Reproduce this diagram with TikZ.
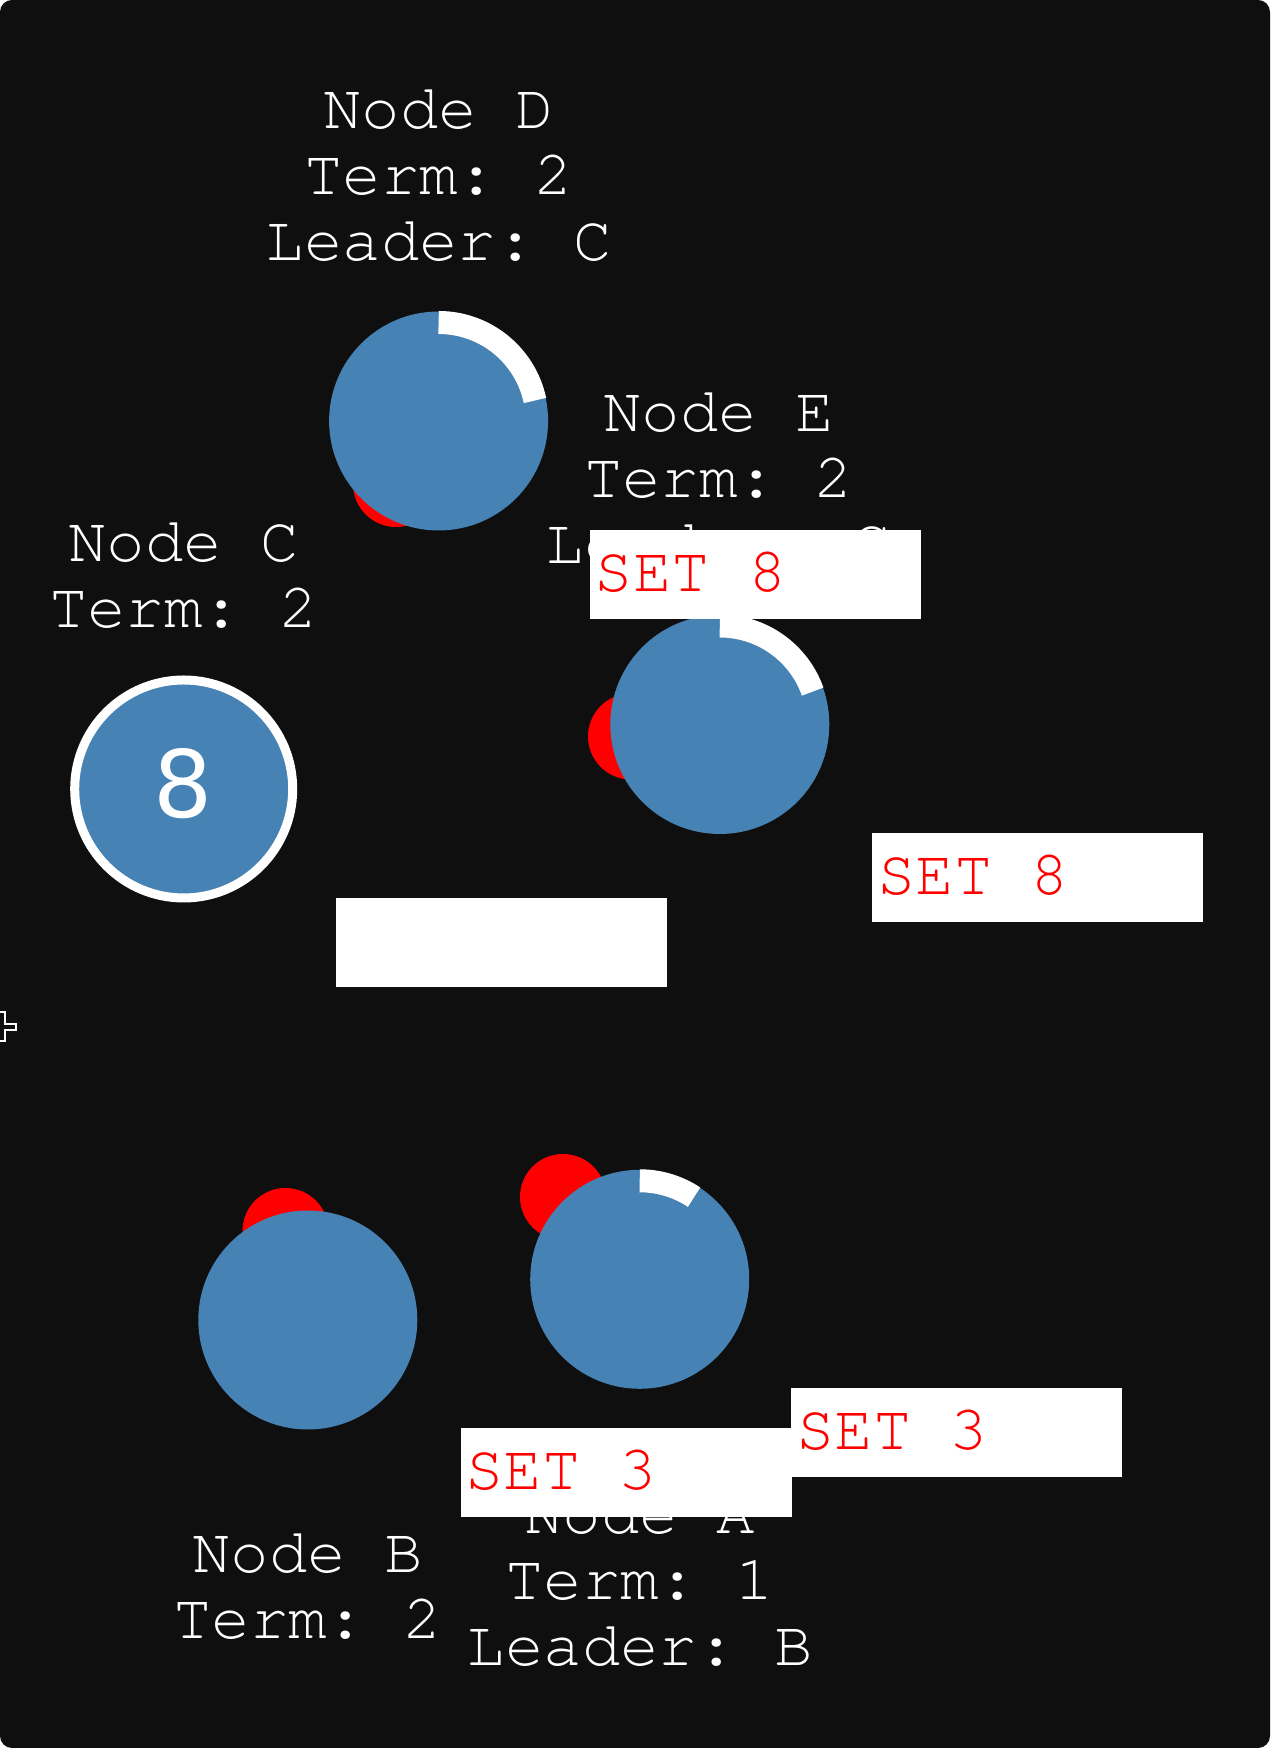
\documentclass[tikz,border=0pt]{standalone}
\usepackage{fontspec}
\newfontfamily\monof{texgyrecursor-regular.otf}
\newfontfamily\sansf{DejaVu Sans}
\definecolor{bgc}{HTML}{0F0F0F}
\definecolor{nodeblue}{HTML}{4682B4}
\definecolor{setred}{HTML}{FF0000}
\frenchspacing
\tikzset{
  lbl/.style={text=white, font=\monof\frenchspacing\fontsize{64}{66}\selectfont, align=center, inner sep=0pt, anchor=base},
  redc/.style={circle, fill=setred, minimum size=86pt, inner sep=0pt},
  bluec/.style={circle, fill=nodeblue, minimum size=219pt, inner sep=0pt},
  prog/.style={white, line width=23pt},
  setbox/.style={fill=white, minimum width=331pt, minimum height=89pt, inner sep=0pt},
  settxt/.style={text=setred, font=\monof\frenchspacing\fontsize{64}{66}\selectfont, inner sep=0pt, anchor=base west}
}
\begin{document}
\begin{tikzpicture}[x=1pt,y=1pt]
\useasboundingbox (0,0) rectangle (1270,1748);
\fill[white] (0,0) rectangle (1270,1748);
\fill[bgc, rounded corners=12pt] (0,0) rectangle (1270,1748);

% labels (anchor = baseline of the last line)
\node[lbl] (lD) at (438.6,1487.8) {Node D\\Term: 2\\Leader: C};
\node[lbl] (lE) at (718.5,1184.5) {Node E\\Term: 2\\Leader: C};
\node[lbl] (lC) at (183.5,1120.3) {Node C\\Term: 2};
\node[lbl] (lB) at (307.7,109) {Node B\\Term: 2};
\node[lbl] (lA) at (639.7,82) {Node A\\Term: 1\\Leader: B};

% red circles
\node[redc] (rD) at (396,1264) {};
\node[redc] (rE) at (631,1011.5) {};
\node[redc] (rB) at (285.5,517) {};
\node[redc] (rA) at (563,551) {};

% blue circles
\node[bluec] (nD) at (438.6,1327) {};
\node[bluec] (nE) at (719.8,1023.5) {};
\node[bluec, minimum size=218pt, draw=white, line width=9pt] (nC) at (183.7,959) {};
\node[text=white, font=\sansf\fontsize{93}{93}\selectfont, inner sep=0pt] (vC) at (183.5,964) {8};
\node[bluec] (nB) at (307.8,428) {};
\node[bluec] (nA) at (639.7,468.7) {};

% progress arcs
\draw[prog] ([yshift=98.5pt]nD.center) arc[start angle=90, end angle=12, radius=98.5pt];
\draw[prog] ([yshift=98.5pt]nE.center) arc[start angle=90, end angle=19.5, radius=98.5pt];
\draw[prog] ([yshift=98.5pt]nA.center) arc[start angle=90, end angle=56.5, radius=98.5pt];

% message boxes
\node[setbox] (s8a) at (755.5,1173) {};
\node[settxt] (t8a) at (594.7,1156) {SET 8};
\node[setbox] (s8b) at (1037,870) {};
\node[settxt] (t8b) at (877,853) {SET 8};
\node[setbox] (sE) at (501.25,805) {};
\node[setbox] (s3a) at (626,275.5) {};
\node[settxt] (t3a) at (465,258) {SET 3};
\node[setbox] (s3b) at (956.5,315.5) {};
\node[settxt] (t3b) at (796,298) {SET 3};

% cursor
\draw[white, line width=2pt, fill=bgc] (-4.7,735.7) -- (4.7,735.7) -- (4.7,724) -- (16.3,724) -- (16.3,718) -- (4.7,718) -- (4.7,707) -- (-4.7,707) -- cycle;
\end{tikzpicture}
\end{document}
